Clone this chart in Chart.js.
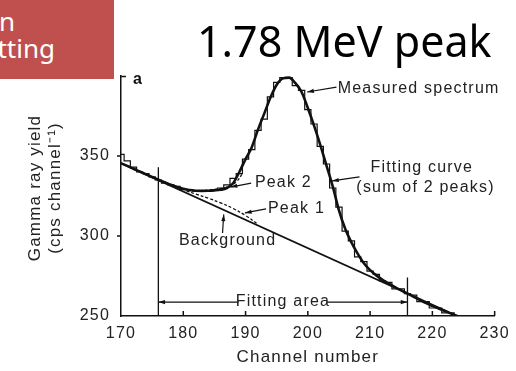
<!DOCTYPE html>
<html>
<head>
<meta charset="utf-8">
<script src="https://cdn.jsdelivr.net/npm/chart.js@4.4.1/dist/chart.umd.min.js"></script>
<style>
    html, body { margin: 0; padding: 0; background: #fff; }
    #wrap { position: relative; width: 516px; height: 371px; overflow: hidden; }
    #chart { position: absolute; left: 0; top: 0; }
    .tag { position: absolute; left: 0; top: 0; width: 114px; height: 79px; background: #c0504d; overflow: hidden; }
    .tag span { position: absolute; white-space: nowrap; color: #fff; font-family: "Noto Sans", sans-serif; font-size: 26px; line-height: 1; }
    .title { position: absolute; left: 197px; top: 19px; font-family: "Noto Sans", sans-serif; font-size: 43px; line-height: 1; color: #000; white-space: nowrap; }
</style>
</head>
<body>
<div id="wrap">
    <canvas id="chart" width="516" height="371"></canvas>
    <div class="tag"><span style="right:99px;top:8px">Deconvolution</span><span style="right:59px;top:35px">Peak fitting</span></div>
    <div class="title">1.78 MeV peak</div>
</div>
<script>
    // measured spectrum, one count per channel
    const channels = [170, 171, 172, 173, 174, 175, 176, 177, 178, 179, 180, 181, 182, 183, 184, 185, 186, 187, 188, 189,
        190, 191, 192, 193, 194, 195, 196, 197, 198, 199, 200, 201, 202, 203, 204, 205, 206, 207, 208, 209,
        210, 211, 212, 213, 214, 215, 216, 217, 218, 219, 220, 221, 222, 223, 224, 225];
    const measured = [351, 347, 343, 340, 339, 337, 335, 333, 332, 331, 329, 329, 328, 328, 328, 329, 330, 332, 336, 339,
        348, 354, 366, 373, 387, 396, 399, 399, 394, 391, 379, 370, 356, 345, 330, 318, 303, 297, 287, 284,
        278, 276, 272, 271, 267, 267, 264, 263, 259, 259, 255, 255, 252, 252, 250, 250];

    // fitting curve (sum of 2 peaks + background)
    const fitChannels = [170, 171, 172, 173, 174, 175, 176, 177, 178, 179, 180, 181, 182, 183, 184, 185, 186, 187, 188, 189,
        190, 191, 192, 193, 194, 195, 196, 197, 198, 199, 200, 201, 202, 203, 204, 205, 206, 207, 208, 209,
        210, 211, 212, 213, 214, 215, 216, 217, 218, 219, 220, 221, 222, 223, 224];
    const fitValues = [345.5, 343.8, 342.0, 340.3, 338.6, 336.9, 335.2, 333.6, 332.0, 330.6, 329.5, 328.7, 328.3, 328.2, 328.3, 328.5, 328.9, 330.0, 333.0, 340.0,
        348.0, 355.5, 366.5, 376.5, 386.5, 394.5, 398.5, 399.0, 395.5, 390.0, 380.0, 369.0, 357.0, 344.0, 331.0, 316.0, 304.5, 296.0, 289.0, 283.0,
        278.7, 275.4, 272.6, 270.2, 268.0, 266.0, 264.0, 262.0, 260.0, 258.0, 256.3, 254.7, 253.1, 251.5, 250.0];

    const backgroundChannels = [170, 224];
    const backgroundValues = [345.5, 250];

    const peak1Channels = [180.5, 182, 184, 186, 188, 190, 192];
    const peak1Values = [328.2, 326.2, 323.6, 320.7, 317.2, 312.8, 307.3];

    const peak2Channels = [181, 183, 185, 187, 188.5, 189.5];
    const peak2Values = [328.3, 328.4, 329.2, 330.6, 333.8, 339.0];

    // fitting area limits
    const fitAreaChannels = [176, 216];
    const fitAreaTops = [343, 274];

    const xTicks = [170, 180, 190, 200, 210, 220, 230];
    const yTicks = [250, 300, 350];

    const ink = '#111';
    const textInk = '#222';
    const family = '"Liberation Sans", Arial, sans-serif';
    Chart.defaults.font.family = family;

    const pts = (xs, ys) => xs.map((v, i) => ({x: v, y: ys[i]}));

    function arrow(ctx, x1, y1, x2, y2) {
        ctx.beginPath();
        ctx.moveTo(x1, y1);
        ctx.lineTo(x2, y2);
        ctx.stroke();
        const a = Math.atan2(y2 - y1, x2 - x1), s = 7;
        ctx.beginPath();
        ctx.moveTo(x2, y2);
        ctx.lineTo(x2 - s * Math.cos(a - 0.3), y2 - s * Math.sin(a - 0.3));
        ctx.lineTo(x2 - s * Math.cos(a + 0.3), y2 - s * Math.sin(a + 0.3));
        ctx.closePath();
        ctx.fill();
    }

    const marks = {
        id: 'marks',
        beforeDraw(chart) {
            chart.ctx.letterSpacing = '1.2px';
        },
        afterDatasetsDraw(chart) {
            const {ctx, scales: {x, y}} = chart;
            const px = v => x.getPixelForValue(v), py = v => y.getPixelForValue(v);
            ctx.save();
            ctx.strokeStyle = ink;
            ctx.fillStyle = ink;
            ctx.lineWidth = 1.5;

            // tick marks: x inward, y outward, bracket at top
            ctx.beginPath();
            xTicks.slice(1).forEach(v => { ctx.moveTo(px(v), y.bottom); ctx.lineTo(px(v), y.bottom - 5); });
            yTicks.slice(1).forEach(v => { ctx.moveTo(x.left - 4, py(v)); ctx.lineTo(x.left, py(v)); });
            ctx.moveTo(x.left, y.top + 0.5);
            ctx.lineTo(x.left + 5, y.top + 0.5);
            ctx.stroke();

            // fitting area limits
            ctx.lineWidth = 1.3;
            ctx.beginPath();
            fitAreaChannels.forEach((c, i) => { ctx.moveTo(px(c), y.bottom); ctx.lineTo(px(c), py(fitAreaTops[i])); });
            ctx.stroke();

            // annotation arrows
            ctx.lineWidth = 1.2;
            arrow(ctx, px(204.6), py(393.1), px(199.9), py(390));
            arrow(ctx, px(208.3), py(336.9), px(203.9), py(334.4));
            arrow(ctx, px(190.9), py(333.1), px(187.6), py(330.6));
            arrow(ctx, px(193.3), py(316.9), px(189.9), py(314.4));
            arrow(ctx, px(186.3), py(301.9), px(186.5), py(313.5));
            arrow(ctx, px(188.9), py(258.7), px(fitAreaChannels[0]), py(258.7));
            arrow(ctx, px(203.0), py(258.7), px(fitAreaChannels[1]), py(258.7));

            // annotation texts
            ctx.fillStyle = textInk;
            ctx.font = '16px ' + family;
            ctx.textBaseline = 'middle';
            ctx.textAlign = 'left';
            ctx.fillText('Measured spectrum', px(204.8), py(392));
            ctx.fillText('Peak 2', px(191.5), py(333.1));
            ctx.fillText('Peak 1', px(193.6), py(317.2));
            ctx.fillText('Background', px(179.3), py(297));
            ctx.textAlign = 'center';
            ctx.fillText('Fitting curve', px(218.3), py(342.5));
            ctx.fillText('(sum of 2 peaks)', px(218.9), py(330));
            ctx.fillText('Fitting area', px(196.0), py(258.7));
            ctx.font = 'bold 16px ' + family;
            ctx.textAlign = 'left';
            ctx.fillStyle = ink;
            ctx.fillText('a', x.left + 12, y.top + 4);

            // y axis title, two lines, centred a little above the plot middle
            ctx.fillStyle = textInk;
            ctx.font = '17px ' + family;
            ctx.textAlign = 'center';
            ctx.translate(35, (y.top + y.bottom) / 2 - 8);
            ctx.rotate(-Math.PI / 2);
            ctx.fillText('Gamma ray yield', 0, 0);
            ctx.fillText('(cps channel\u207B\u00B9)', 0, 20);
            ctx.restore();
        }
    };

    new Chart(document.getElementById('chart'), {
        type: 'line',
        data: {
            datasets: [
                {label: 'Measured spectrum', data: pts(channels, measured), stepped: 'middle', borderColor: ink, borderWidth: 1.2, pointRadius: 0},
                {label: 'Background', data: pts(backgroundChannels, backgroundValues), borderColor: ink, borderWidth: 1.8, pointRadius: 0},
                {label: 'Peak 1', data: pts(peak1Channels, peak1Values), borderColor: ink, borderWidth: 1.3, borderDash: [3, 2], pointRadius: 0, tension: 0.4},
                {label: 'Peak 2', data: pts(peak2Channels, peak2Values), borderColor: ink, borderWidth: 1.3, borderDash: [3, 2], pointRadius: 0, tension: 0.4},
                {label: 'Fitting curve', data: pts(fitChannels, fitValues), borderColor: ink, borderWidth: 2.6, pointRadius: 0, cubicInterpolationMode: 'monotone'}
            ]
        },
        options: {
            responsive: false,
            animation: false,
            devicePixelRatio: 1,
            layout: {padding: {top: 76, right: 16, left: 0, bottom: 0}},
            plugins: {legend: {display: false}, tooltip: {enabled: false}},
            scales: {
                x: {
                    type: 'linear', min: 170, max: 230,
                    afterBuildTicks: s => { s.ticks = xTicks.map(v => ({value: v})); },
                    afterFit: s => { s.height = 55; },
                    grid: {display: false, drawTicks: false, tickLength: 0},
                    border: {display: true, color: ink, width: 1.5},
                    ticks: {color: textInk, font: {size: 16}, padding: 8, maxRotation: 0, autoSkip: false},
                    title: {display: true, text: 'Channel number', color: textInk, font: {size: 17, lineHeight: 1.18}, padding: {top: 0, bottom: 4}}
                },
                y: {
                    type: 'linear', min: 250, max: 400,
                    afterBuildTicks: s => { s.ticks = yTicks.map(v => ({value: v})); },
                    afterFit: s => { s.width = 121; },
                    grid: {display: false, drawTicks: false, tickLength: 0},
                    border: {display: true, color: ink, width: 1.5},
                    ticks: {color: textInk, font: {size: 16}, padding: 11, autoSkip: false},
                    title: {display: false}
                }
            }
        },
        plugins: [marks]
    });
</script>
</body>
</html>
